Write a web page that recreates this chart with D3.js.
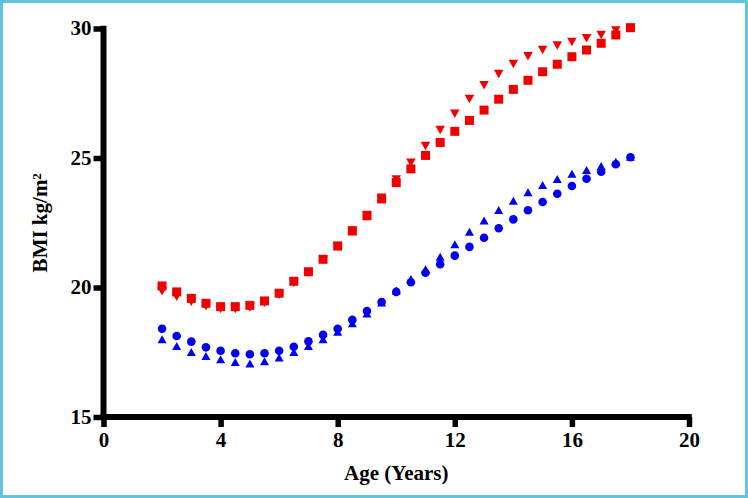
<!DOCTYPE html>
<html>
<head>
<meta charset="utf-8">
<script src="https://cdn.jsdelivr.net/npm/d3@7"></script>
<style>
  html, body { margin: 0; padding: 0; background: #fff; }
  svg { display: block; }
  text { font-family: "Liberation Serif", "Times New Roman", serif; font-weight: bold; fill: #000; }
</style>
</head>
<body>
<script>
const ages = [2,2.5,3,3.5,4,4.5,5,5.5,6,6.5,7,7.5,8,8.5,9,9.5,10,10.5,11,11.5,12,12.5,13,13.5,14,14.5,15,15.5,16,16.5,17,17.5,18];
const redSquares = [20.06,19.83,19.58,19.39,19.26,19.26,19.31,19.48,19.78,20.24,20.61,21.09,21.6,22.18,22.77,23.42,24.05,24.58,25.1,25.6,26.03,26.45,26.85,27.27,27.65,28.0,28.33,28.62,28.91,29.17,29.43,29.75,30.03];
const redTriangles = [19.86,19.64,19.45,19.29,19.18,19.17,19.23,19.41,19.72,20.18,20.58,21.07,21.6,22.2,22.8,23.47,24.17,24.82,25.46,26.08,26.71,27.28,27.81,28.24,28.63,28.93,29.17,29.34,29.48,29.62,29.75,29.92,30.02];
const blueCircles = [18.41,18.13,17.91,17.69,17.56,17.46,17.42,17.46,17.56,17.71,17.92,18.17,18.41,18.75,19.09,19.44,19.83,20.2,20.57,20.9,21.23,21.57,21.92,22.29,22.63,22.98,23.3,23.62,23.92,24.2,24.47,24.76,25.03];
const blueTriangles = [18.0,17.74,17.51,17.36,17.23,17.12,17.07,17.15,17.3,17.51,17.74,18.0,18.29,18.62,19.0,19.42,19.88,20.33,20.7,21.19,21.67,22.15,22.59,22.99,23.35,23.68,23.96,24.19,24.39,24.54,24.69,24.86,25.05];
const xTicks = [0,4,8,12,16,20];
const yTicks = [15,20,25,30];
const xLabel = "Age (Years)";
const yLabel = "BMI kg/m";

const W = 748, H = 498;
const svg = d3.select("body").append("svg").attr("width", W).attr("height", H);

svg.append("rect").attr("x", 1.5).attr("y", 1.5).attr("width", W - 3).attr("height", H - 3)
  .attr("fill", "#fff").attr("stroke", "#62c3d9").attr("stroke-width", 3);

const x = d3.scaleLinear().domain([0, 20]).range([103.5, 689]);
const y = d3.scaleLinear().domain([15, 30]).range([417, 28.5]);

// axes
const gx = svg.append("g").attr("transform", `translate(0,${y(15)})`)
  .call(d3.axisBottom(x).tickValues(xTicks).tickSize(10).tickPadding(10).tickFormat(d3.format("d")));
const gy = svg.append("g").attr("transform", `translate(${x(0)},0)`)
  .call(d3.axisLeft(y).tickValues(yTicks).tickSize(10).tickPadding(2).tickFormat(d3.format("d")));

[gx, gy].forEach(g => {
  g.select(".domain").remove();
  g.selectAll(".tick line").attr("stroke", "#000").attr("stroke-width", 5.5);
  g.selectAll(".tick text").style("font-size", "21px").style("font-family", '"Liberation Serif", serif').style("font-weight", "bold").attr("fill", "#000");
});
gy.selectAll(".tick text").attr("dy", "0.3em");
gx.selectAll(".tick text").attr("dy", "0.71em").attr("y", 15);

// axis lines
svg.append("line").attr("x1", x(0)).attr("x2", x(0)).attr("y1", y(30) - 2.75).attr("y2", y(15) + 2.75)
  .attr("stroke", "#000").attr("stroke-width", 6);
svg.append("line").attr("x1", x(0) - 3).attr("x2", x(20) + 2.75).attr("y1", y(15)).attr("y2", y(15))
  .attr("stroke", "#000").attr("stroke-width", 6);

// labels
svg.append("text").attr("x", (x(0) + x(20)) / 2).attr("y", 480).attr("text-anchor", "middle")
  .style("font-size", "21px").text(xLabel);
const yl = svg.append("text").attr("transform", `translate(46.5,${(y(15) + y(30)) / 2}) rotate(-90)`)
  .attr("text-anchor", "middle").style("font-size", "21px");
yl.append("tspan").text(yLabel);
yl.append("tspan").attr("dy", "-0.45em").style("font-size", "13px").text("2");

// markers
function tri(cx, cy, w, h, down) {
  if (down) return `M${cx - w/2},${cy - h/2}L${cx + w/2},${cy - h/2}L${cx},${cy + h/2}Z`;
  return `M${cx - w/2},${cy + h/2}L${cx + w/2},${cy + h/2}L${cx},${cy - h/2}Z`;
}
const red = "#f00000", blue = "#0000f0";

svg.append("g").selectAll("path").data(ages).join("path")
  .attr("d", (a, i) => tri(x(a), y(redTriangles[i]), 9.5, 8.5, true)).attr("fill", red);
svg.append("g").selectAll("rect").data(ages).join("rect")
  .attr("x", (a) => x(a) - 4.5).attr("y", (a, i) => y(redSquares[i]) - 4.5)
  .attr("width", 9).attr("height", 9).attr("fill", red);

svg.append("g").selectAll("path").data(ages).join("path")
  .attr("d", (a, i) => tri(x(a), y(blueTriangles[i]), 9, 8, false)).attr("fill", blue);
svg.append("g").selectAll("circle").data(ages).join("circle")
  .attr("cx", (a) => x(a)).attr("cy", (a, i) => y(blueCircles[i])).attr("r", 4.3).attr("fill", blue);
</script>
</body>
</html>
